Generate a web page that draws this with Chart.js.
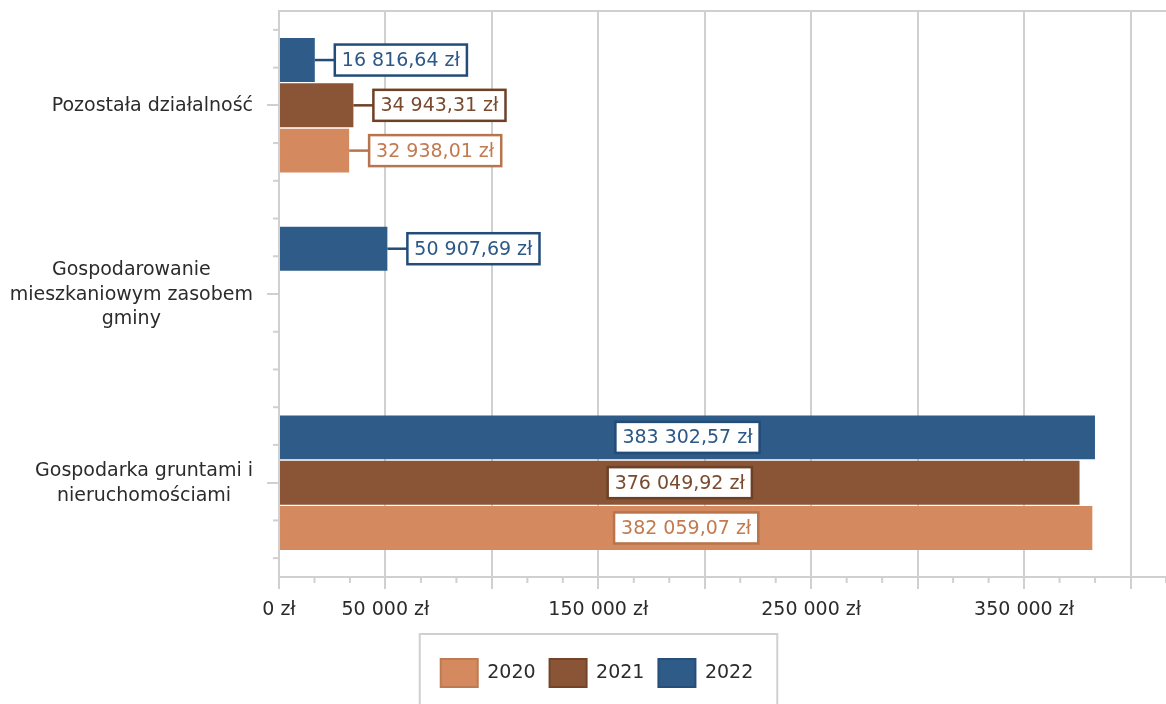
<!DOCTYPE html>
<html><head><meta charset="utf-8">
<script src="https://cdn.jsdelivr.net/npm/chart.js@4"></script>
<style>html,body{margin:0;padding:0;background:#fff}#wrap{width:1166px;height:704px}</style>
</head><body><div id="wrap"><canvas id="c" width="1166" height="704"></canvas></div>
<script>
// ---- data ----
const categories = [
  ['Pozostała działalność'],
  ['Gospodarowanie', 'mieszkaniowym zasobem', 'gminy'],
  ['Gospodarka gruntami i', 'nieruchomościami']
];
const seriesNames = ['2022', '2021', '2020'];
const values2022 = [16816.64, 50907.69, 383302.57];
const values2021 = [34943.31, null, 376049.92];
const values2020 = [32938.01, null, 382059.07];
const xTickValues = [0, 50000, 100000, 150000, 200000, 250000, 300000, 350000, 400000];
const xTickLabels = ['0 zł', '50 000 zł', '', '150 000 zł', '', '250 000 zł', '', '350 000 zł', ''];
const xMax = 416667;

// ---- styles ----
const FONT = '"DejaVu Sans", Verdana, sans-serif';
const barColors = ['#2E5B87', '#8A5536', '#D5895E'];
const barEdge = ['#264E78', '#744428', '#BE7A52'];
const labelText = ['#2D5886', '#7A4A2E', '#C27A4F'];
const labelBorder = ['#234D78', '#6E4126', '#B8744D'];
const GRID = '#d0d0d0';
const TEXT = '#2b2b2b';

function fmt(v) {
  const parts = v.toFixed(2).split('.');
  const int = parts[0].replace(/\B(?=(\d{3})+(?!\d))/g, ' ');
  return int + ',' + parts[1] + ' zł';
}

const decorPlugin = {
  id: 'decor',
  beforeDatasetsDraw(chart) {
    const ctx = chart.ctx, ca = chart.chartArea;
    const xs = chart.scales.x, ys = chart.scales.y;
    ctx.save();
    ctx.strokeStyle = GRID; ctx.lineWidth = 2;
    // top border
    ctx.beginPath(); ctx.moveTo(ca.left, ca.top); ctx.lineTo(ca.right, ca.top); ctx.stroke();
    // x minor ticks
    for (let k = 1; k <= 25; k++) {
      if (k % 3 === 0) continue;
      const x = xs.getPixelForValue(k * 50000 / 3);
      ctx.beginPath(); ctx.moveTo(x, ca.bottom); ctx.lineTo(x, ca.bottom + 6); ctx.stroke();
    }
    // y minor ticks
    for (let i = 0; i < categories.length; i++) {
      [-0.4, -0.2, 0.2, 0.4].forEach(d => {
        const y = ys.getPixelForValue(i + d);
        ctx.beginPath(); ctx.moveTo(ca.left - 6, y); ctx.lineTo(ca.left, y); ctx.stroke();
      });
    }
    ctx.restore();
  },
  afterDatasetsDraw(chart) {
    const ctx = chart.ctx;
    ctx.save();
    ctx.font = '19px ' + FONT;
    ctx.textBaseline = 'middle';
    ctx.textAlign = 'center';
    chart.data.datasets.forEach((ds, di) => {
      const meta = chart.getDatasetMeta(di);
      meta.data.forEach((bar, i) => {
        const v = ds.data[i];
        if (v == null) return;
        const txt = fmt(v);
        const tw = ctx.measureText(txt).width;
        const bw = tw + 14, bh = 31;
        const len = bar.x - bar.base;
        let bx;
        ctx.strokeStyle = labelBorder[di];
        ctx.lineWidth = 2.5;
        if (len > bw + 30) {
          bx = (bar.x + bar.base) / 2 - bw / 2;
        } else {
          bx = bar.x + 20;
          ctx.beginPath(); ctx.moveTo(bar.x, bar.y); ctx.lineTo(bx, bar.y); ctx.stroke();
        }
        const by = bar.y - bh / 2;
        ctx.fillStyle = '#ffffff';
        ctx.fillRect(bx, by, bw, bh);
        ctx.strokeRect(bx, by, bw, bh);
        ctx.fillStyle = labelText[di];
        ctx.fillText(txt, bx + bw / 2, bar.y + 1);
      });
    });
    ctx.restore();
  },
  afterDraw(chart) {
    const ctx = chart.ctx;
    const ys = chart.scales.y;
    ctx.save();
    // category labels: block right aligned, lines centered
    ctx.font = '19px ' + FONT;
    ctx.fillStyle = TEXT;
    ctx.textBaseline = 'middle';
    ctx.textAlign = 'center';
    const right = chart.chartArea.left - 26;
    const lh = 24.5;
    categories.forEach((lines, i) => {
      const w = Math.max(...lines.map(l => ctx.measureText(l).width));
      const cx = right - w / 2;
      const cy = ys.getPixelForValue(i) + 1;
      lines.forEach((l, j) => {
        ctx.fillText(l, cx, cy + (j - (lines.length - 1) / 2) * lh);
      });
    });
    // legend frame
    const hb = chart.legend && chart.legend.legendHitBoxes;
    if (hb && hb.length) {
      const l = Math.min(...hb.map(h => h.left)) - 21;
      const r = Math.max(...hb.map(h => h.left + h.width)) + 24;
      const t = hb[0].top - 25;
      ctx.strokeStyle = GRID; ctx.lineWidth = 2;
      ctx.strokeRect(l, t, r - l, chart.height + 10 - t);
    }
    ctx.restore();
  }
};

const datasets = [values2022, values2021, values2020].map((vals, i) => ({
  label: seriesNames[i],
  data: vals,
  backgroundColor: barColors[i],
  borderColor: barEdge[i],
  borderWidth: 0,
  categoryPercentage: 0.72,
  barPercentage: 0.97
}));

new Chart(document.getElementById('c'), {
  type: 'bar',
  data: { labels: categories, datasets },
  plugins: [decorPlugin],
  options: {
    indexAxis: 'y',
    responsive: false,
    animation: false,
    devicePixelRatio: 1,
    layout: { padding: { top: 11, left: 28, right: 0, bottom: 7 } },
    plugins: {
      tooltip: { enabled: false },
      legend: {
        position: 'bottom',
        reverse: true,
        labels: {
          font: { family: FONT, size: 19 },
          color: TEXT,
          boxWidth: 37,
          boxHeight: 28,
          padding: 14,
          generateLabels(chart) {
            const items = Chart.defaults.plugins.legend.labels.generateLabels(chart);
            items.forEach(it => {
              it.lineWidth = 2;
              it.strokeStyle = barEdge[it.datasetIndex];
            });
            return items;
          }
        }
      }
    },
    scales: {
      x: {
        type: 'linear',
        min: 0,
        max: xMax,
        afterBuildTicks(s) { s.ticks = xTickValues.map(v => ({ value: v })); },
        afterFit(s) { s.height = 68; },
        grid: { color: GRID, lineWidth: 2, tickLength: 12 },
        border: { color: GRID, width: 2 },
        ticks: {
          font: { family: FONT, size: 19 },
          color: TEXT,
          padding: 10,
          autoSkip: false,
          maxRotation: 0,
          callback(v, i) { return xTickLabels[i]; }
        }
      },
      y: {
        type: 'category',
        afterFit(s) { s.width = 251; },
        grid: { drawOnChartArea: false, offset: false, color: GRID, lineWidth: 2, tickLength: 12 },
        border: { color: GRID, width: 2 },
        ticks: { display: false }
      }
    }
  }
});
</script>
</body></html>
